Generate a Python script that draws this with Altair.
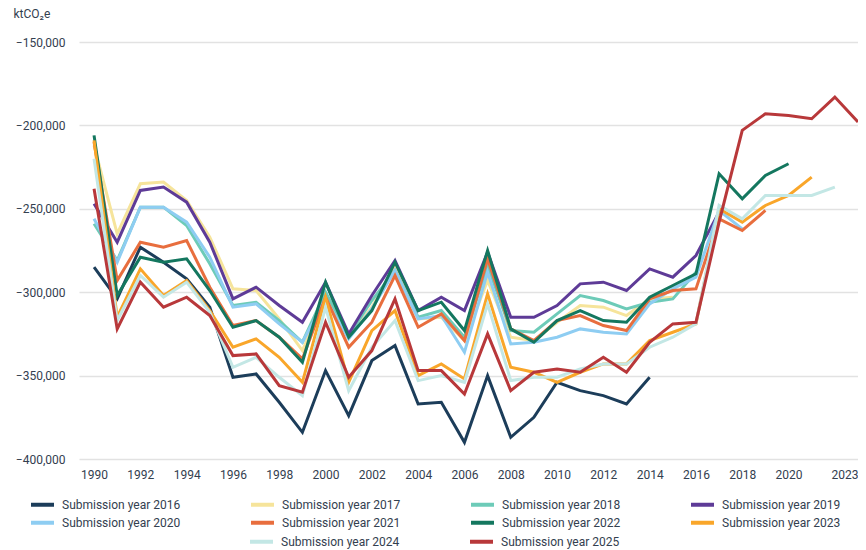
import altair as alt
import pandas as pd

years = list(range(1990, 2024))
tick_years = [1990, 1992, 1994, 1996, 1998, 2000, 2002, 2004, 2006, 2008,
              2010, 2012, 2014, 2016, 2018, 2020, 2023]
y_ticks = [-400000, -350000, -300000, -250000, -200000, -150000]

# values in kt CO2e (thousands), starting 1990
s2016 = [-285, -304, -273, -282, -292, -309, -351, -349, -366, -384, -347, -374, -341,
         -332, -367, -366, -390, -350, -387, -375, -354, -359, -362, -367, -351]
s2017 = [-212, -265, -235, -234, -245, -267, -298, -299, -316, -335, -303, -327, -309,
         -285, -316, -315, -329, -293, -327, -329, -318, -308, -309, -314, -304, -303]
s2018 = [-259, -281, -249, -249, -260, -283, -308, -306, -317, -330, -300, -326, -305,
         -287, -315, -311, -327, -284, -323, -324, -313, -302, -305, -310, -306, -304, -288]
s2019 = [-247, -270, -239, -237, -246, -270, -304, -297, -308, -318, -294, -325, -302,
         -281, -311, -303, -311, -276, -315, -315, -308, -295, -294, -299, -286, -291, -278, -252]
s2020 = [-256, -282, -249, -249, -258, -279, -309, -307, -319, -330, -304, -328, -310,
         -287, -316, -314, -336, -288, -331, -330, -327, -322, -324, -325, -307, -298, -291,
         -251, -262]
s2021 = [-210, -293, -270, -273, -269, -297, -320, -317, -327, -340, -303, -333, -318,
         -290, -321, -313, -329, -280, -322, -329, -317, -314, -320, -323, -304, -299, -298,
         -256, -263, -251]
s2022 = [-206, -302, -279, -282, -280, -299, -321, -317, -327, -342, -294, -327, -311,
         -282, -311, -306, -323, -275, -322, -330, -317, -311, -317, -318, -303, -296, -289,
         -229, -244, -230, -223]
s2023 = [-209, -315, -286, -302, -293, -311, -333, -328, -339, -354, -303, -354, -323,
         -311, -350, -343, -352, -301, -345, -348, -354, -348, -343, -343, -329, -324, -319,
         -250, -258, -248, -242, -231]
s2024 = [-220, -317, -290, -303, -294, -312, -345, -339, -351, -362, -309, -359, -333,
         -317, -353, -350, -354, -307, -353, -351, -351, -346, -343, -343, -333, -327, -319,
         -248, -256, -242, -242, -242, -237]
s2025 = [-238, -322, -294, -309, -303, -314, -338, -337, -356, -360, -318, -351, -335,
         -304, -347, -347, -361, -325, -359, -348, -346, -348, -339, -348, -330, -319, -318,
         -258, -203, -193, -194, -196, -183, -198]

all_series = [s2016, s2017, s2018, s2019, s2020, s2021, s2022, s2023, s2024, s2025]
names = [f"Submission year {y}" for y in range(2016, 2026)]
colors = ["#1C3D5A", "#F6E49B", "#6DCBB8", "#5E3B97", "#8ECDF2",
          "#E86E3E", "#14775F", "#F9A62A", "#C3E7E5", "#B8383A"]

rows = []
for name, vals in zip(names, all_series):
    for yr, v in zip(years, vals):
        rows.append({"year": yr, "value": v * 1000, "series": name})
df = pd.DataFrame(rows)

FONT = "Roboto"
TXT = "#33404f"

x = alt.X("year:Q",
          scale=alt.Scale(domain=[1989.35, 2023], nice=False, zero=False),
          axis=alt.Axis(values=tick_years, format="d", title=None, grid=False,
                        domain=False, ticks=False, labelPadding=10, labelFontSize=12,
                        labelFont=FONT, labelColor=TXT, labelOverlap=False,
                        labelFlush=True))
y = alt.Y("value:Q",
          scale=alt.Scale(domain=[-400000, -150000], nice=False, zero=False),
          axis=alt.Axis(values=y_ticks, format=",d", title="ktCO₂e", titleAngle=0,
                        titleAlign="left", titleBaseline="middle", titleX=-66, titleY=-29,
                        titleFont=FONT, titleFontSize=12, titleFontWeight="normal",
                        titleColor=TXT, domain=False, ticks=False, labelPadding=14,
                        labelFontSize=12, labelFont=FONT, labelColor=TXT,
                        grid=True, gridColor="#e2e2e2", gridWidth=1.5))

leg_common = dict(orient="none", title=None, direction="horizontal", symbolType="stroke",
                  symbolStrokeWidth=4, symbolSize=529, labelFontSize=12, labelFont=FONT,
                  labelColor=TXT, labelOffset=6, columnPadding=62, labelLimit=200)

# one layer per legend row: (series indices, legendX, legendY)
groups = [(range(0, 4), -50, 449), (range(4, 8), -50, 467), (range(8, 10), 169, 486)]
layers = []
for idx, lx, ly in groups:
    sel = [names[i] for i in idx]
    cols = [colors[i] for i in idx]
    layers.append(
        alt.Chart(df[df["series"].isin(sel)]).mark_line(strokeWidth=3).encode(
            x=x, y=y,
            color=alt.Color("series:N", scale=alt.Scale(domain=sel, range=cols),
                            legend=alt.Legend(columns=4, legendX=lx, legendY=ly,
                                              **leg_common)),
        )
    )

chart = alt.layer(*layers).resolve_scale(color="independent").properties(
    width=779, height=417,
    autosize=alt.AutoSizeParams(type="none"),
    padding={"left": 71, "top": 34, "right": 0, "bottom": 91},
).configure_view(stroke=None)

chart.save("out.html", embed_options={"renderer": "svg", "actions": False})
